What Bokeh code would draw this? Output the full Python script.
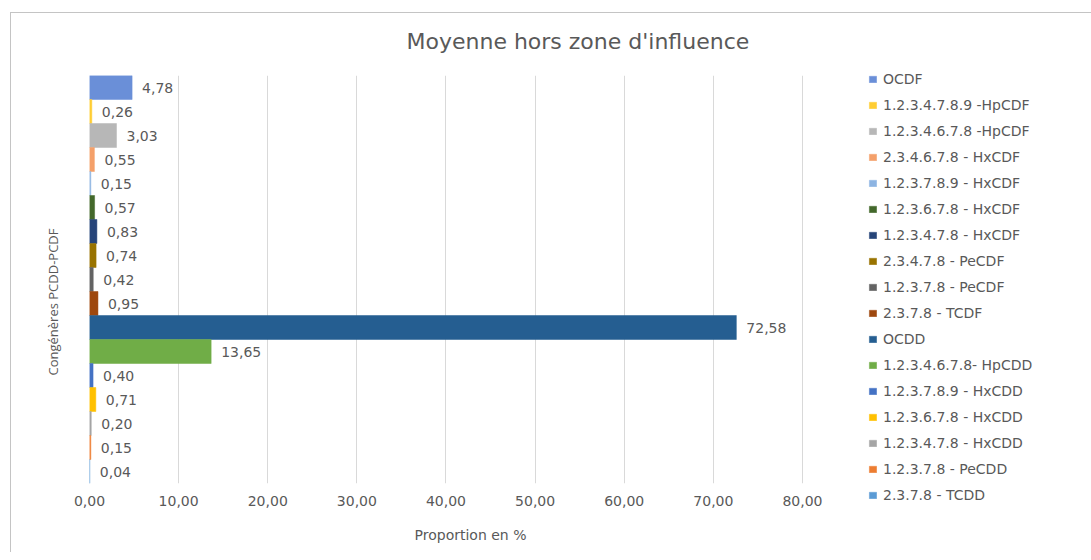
from bokeh.plotting import figure
from bokeh.models import (ColumnDataSource, Range1d, FixedTicker, CustomJSTickFormatter,
                          Legend, LegendItem, LabelSet, Title)
from bokeh.embed import file_html
from bokeh.resources import INLINE
from bokeh.core.properties import value

# ---- data (top to bottom, as in the reference) ----
congeners = [
    "OCDF",
    "1.2.3.4.7.8.9 -HpCDF",
    "1.2.3.4.6.7.8 -HpCDF",
    "2.3.4.6.7.8 - HxCDF",
    "1.2.3.7.8.9 - HxCDF",
    "1.2.3.6.7.8 - HxCDF",
    "1.2.3.4.7.8 - HxCDF",
    "2.3.4.7.8 - PeCDF",
    "1.2.3.7.8 - PeCDF",
    "2.3.7.8 - TCDF",
    "OCDD",
    "1.2.3.4.6.7.8- HpCDD",
    "1.2.3.7.8.9 - HxCDD",
    "1.2.3.6.7.8 - HxCDD",
    "1.2.3.4.7.8 - HxCDD",
    "1.2.3.7.8 - PeCDD",
    "2.3.7.8 - TCDD",
]
proportions = [4.78, 0.26, 3.03, 0.55, 0.15, 0.57, 0.83, 0.74, 0.42, 0.95,
               72.58, 13.65, 0.40, 0.71, 0.20, 0.15, 0.04]
colors = ["#6A8FD8", "#FFCD33", "#B7B7B7", "#F4A06A", "#8DB4E2", "#43682B",
          "#264478", "#997300", "#636363", "#9E480E", "#255E91", "#70AD47",
          "#4472C4", "#FFC000", "#A5A5A5", "#ED7D31", "#5B9BD5"]
x_ticks = [0, 10, 20, 30, 40, 50, 60, 70, 80]

title_text = "Moyenne hors zone d'influence"
y_title = "Congénères PCDD-PCDF"
x_title = "Proportion en %"

TXT = "#595959"
FONT = "DejaVu Sans"

n = len(congeners)
src = ColumnDataSource(dict(
    y=[n - 1 - i for i in range(n)],
    value=proportions,
    color=colors,
    name=congeners,
    label=[f"{v:.2f}".replace(".", ",") for v in proportions],
))

p = figure(frame_width=762, frame_height=408,
           x_range=Range1d(0, 85.5), y_range=Range1d(-0.5, n - 0.5),
           output_backend="svg", toolbar_location=None,
           min_border_left=89, min_border_right=232,
           min_border_top=75, min_border_bottom=69)
p.outline_line_color = None
p.background_fill_color = "white"
p.border_fill_alpha = 0
p.styles = {
    "background": "linear-gradient(#c4c4c4,#c4c4c4) 10px 12px / 1px 100% no-repeat, "
                  "linear-gradient(#c4c4c4,#c4c4c4) 10px 12px / 100% 1px no-repeat, white"
}

r = p.hbar(y="y", left=0, right="value", height=1.0, fill_color="color",
           line_color="color", line_width=0.5, source=src)

# x axis
p.xaxis.ticker = FixedTicker(ticks=x_ticks)
p.xaxis.formatter = CustomJSTickFormatter(code="return tick.toFixed(2).replace('.', ',');")
p.xaxis.axis_line_color = None
p.xaxis.major_tick_line_color = None
p.xaxis.minor_tick_line_color = None
p.xaxis.major_tick_out = 0
p.xaxis.major_label_standoff = 12
p.xaxis.major_label_text_font = FONT
p.xaxis.major_label_text_font_size = "14px"
p.xaxis.major_label_text_color = TXT
p.xaxis.axis_label = x_title
p.xaxis.axis_label_standoff = 18
p.xaxis.axis_label_text_font = FONT
p.xaxis.axis_label_text_font_size = "14px"
p.xaxis.axis_label_text_font_style = "normal"
p.xaxis.axis_label_text_color = TXT
p.yaxis.visible = False

p.xgrid.grid_line_color = "#d9d9d9"
p.ygrid.grid_line_color = None

# data labels
labels = LabelSet(x="value", y="y", text="label", source=src, x_offset=10,
                  text_baseline="middle", text_align="left",
                  text_font=value(FONT), text_font_size="14px", text_color=TXT)
p.add_layout(labels)

# legend
items = [LegendItem(label=congeners[i], renderers=[r], index=i) for i in range(n)]
legend = Legend(items=items, location=(17, -25), orientation="vertical",
                glyph_width=9, glyph_height=8, label_height=26, spacing=0,
                padding=0, margin=0, label_standoff=6,
                border_line_color=None, background_fill_alpha=0,
                label_text_font=FONT, label_text_font_size="14px",
                label_text_color=TXT)
p.add_layout(legend, "right")

# title
p.title.text = title_text
p.title.align = "left"
p.title.offset = 317
p.title.standoff = 43
p.title.text_font = FONT
p.title.text_font_size = "22px"
p.title.text_font_style = "normal"
p.title.text_color = TXT

# y title
p.add_layout(Title(text=y_title, align="left", offset=108, standoff=56,
                   text_font="Open Sans", text_font_size="13px",
                   text_font_style="normal", text_color=TXT), "left")

open("out.html", "w").write(file_html(p, INLINE))
